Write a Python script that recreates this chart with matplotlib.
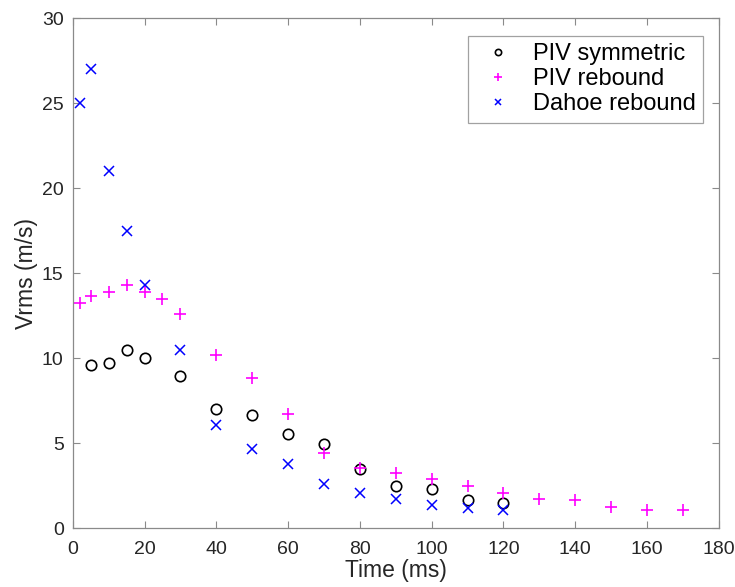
import matplotlib.pyplot as plt
import numpy as np

plt.rcParams['font.family'] = ['Liberation Sans', 'DejaVu Sans']

# PIV symmetric
t_sym = [5, 10, 15, 20, 30, 40, 50, 60, 70, 80, 90, 100, 110, 120]
v_sym = [9.6, 9.7, 10.5, 10.0, 8.95, 7.05, 6.68, 5.55, 4.97, 3.51, 2.5, 2.33, 1.68, 1.48]

# PIV rebound
t_reb = [2, 5, 10, 15, 20, 25, 30, 40, 50, 60, 70, 80, 90, 100, 110, 120, 130, 140, 150, 160, 170]
v_reb = [13.25, 13.68, 13.9, 14.3, 13.9, 13.5, 12.6, 10.2, 8.82, 6.74, 4.43, 3.57, 3.27, 2.9,
         2.5, 2.07, 1.74, 1.65, 1.25, 1.1, 1.06]

# Dahoe rebound
t_dah = [2, 5, 10, 15, 20, 30, 40, 50, 60, 70, 80, 90, 100, 110, 120]
v_dah = [25.0, 27.0, 21.0, 17.5, 14.3, 10.5, 6.1, 4.7, 3.8, 2.6, 2.07, 1.74, 1.39, 1.19, 1.09]

axis_col = '#8a8a8a'
text_col = '#262626'

fig = plt.figure(figsize=(7.35, 5.87), dpi=100)
ax = fig.add_axes([0.099, 0.0997, 0.879, 0.8693])

ax.plot(t_sym, v_sym, 'o', mfc='none', mec='black', ms=7.5, mew=1.2, label='PIV symmetric')
ax.plot(t_reb, v_reb, '+', color='magenta', ms=9, mew=1.2, label='PIV rebound')
ax.plot(t_dah, v_dah, 'x', color='blue', ms=7, mew=1.1, label='Dahoe rebound')

ax.set_xlim(0, 180)
ax.set_ylim(0, 30)
ax.set_xticks(np.arange(0, 181, 20))
ax.set_yticks(np.arange(0, 31, 5))
ax.tick_params(direction='in', length=5, width=0.8, color=axis_col, labelcolor=text_col,
               labelsize=14, top=True, right=True, labeltop=False, labelright=False)
ax.tick_params(axis='x', pad=9)
ax.tick_params(axis='y', pad=6.5)
for s in ax.spines.values():
    s.set_color(axis_col)
    s.set_linewidth(0.9)
ax.set_xlabel('Time (ms)', fontsize=16.5, labelpad=1, color=text_col)
ax.set_ylabel('Vrms (m/s)', fontsize=16.5, labelpad=3, color=text_col)

leg = ax.legend(loc='upper right', fontsize=17, fancybox=False, edgecolor=axis_col,
                markerscale=0.6, handletextpad=0.55, handlelength=1.9, borderpad=0.3,
                labelspacing=0.14, bbox_to_anchor=(0.9755, 0.9655), borderaxespad=0)
leg.get_frame().set_linewidth(0.9)
for t in leg.get_texts():
    t.set_color('black')

plt.savefig('out.png', dpi=100)
